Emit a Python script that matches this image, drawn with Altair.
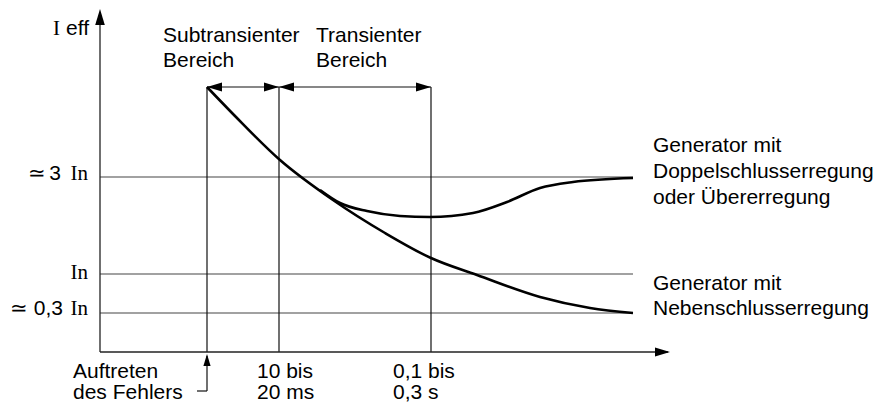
import altair as alt
import pandas as pd

# Diagram units: origin at the crossing of the two axes, one unit = one pixel
X_DOMAIN = [-92, 784]
Y_DOMAIN = [-52, 344]

# Axis lines
axis_x = [0, 0]
axis_x2 = [0, 568]
axis_y = [0, 0]
axis_y2 = [340, 0]

# Vertical markers: fault, 10..20 ms, 0.1..0.3 s
marker_x = [107, 179, 331]
marker_top = 265

# Current levels: ~3 In, In, ~0.3 In
level_y = [175, 78, 39]
level_end = 533

# Curve: generator with shunt excitation (Nebenschlusserregung)
neben_x = [107, 135, 180, 233, 285, 331, 377, 440, 490, 533]
neben_y = [265, 236, 192, 152, 119, 94, 77, 55, 44, 39]

# Curve: generator with compound / over-excitation
doppel_x = [220, 240, 267, 300, 330, 373, 407, 440, 473, 533]
doppel_y = [162, 149, 141, 136, 135, 139, 150, 164, 170, 174]

# Arrowheads (tip position, direction in degrees clockwise from right, area)
arrow_x = [0, 570, 107, 107, 179, 179, 331]
arrow_y = [343, 0, -2, 265, 265, 265, 265]
arrow_angle = [270, 0, 270, 180, 0, 180, 0]
arrow_size = [256, 225, 144, 225, 225, 225, 225]

# Dimension line and fault pointer
dim_x, dim_x2, dim_y = [107], [331], [265]
ptr_x = [107, 97]
ptr_x2 = [107, 107]
ptr_y = [-39, -39]
ptr_y2 = [-4, -39]

# Texts (sans, left aligned)
sl_text = ["Subtransienter", "Bereich", "Transienter", "Bereich",
           "Generator mit", "Doppelschlusserregung", "oder Übererregung",
           "Generator mit", "Nebenschlusserregung",
           "Auftreten", "des Fehlers", "10 bis", "20 ms", "0,1 bis", "0,3 s"]
sl_x = [63, 63, 216, 216, 553, 553, 553, 553, 553, -27, -27, 157, 157, 293, 293]
sl_y = [310, 285, 310, 285, 200, 174, 148, 62, 37, -26, -47, -26, -47, -26, -47]

# Texts (sans, right aligned)
sr_text = ["eff", "3", "0,3", "≃", "≃"]
sr_x = [-11, -39, -37, -54, -72]
sr_y = [317, 172, 37, 172, 37]

# Texts (serif, right aligned)
rr_text = ["I", "In", "In", "In"]
rr_x = [-40, -12, -12, -12]
rr_y = [317, 172, 73, 37]

xs = alt.Scale(domain=X_DOMAIN, nice=False, zero=False)
ys = alt.Scale(domain=Y_DOMAIN, nice=False, zero=False)


def X(f="x"):
    return alt.X(f"{f}:Q", scale=xs, axis=None)


def Y(f="y"):
    return alt.Y(f"{f}:Q", scale=ys, axis=None)


axes = alt.Chart(pd.DataFrame({"x": axis_x, "x2": axis_x2, "y": axis_y, "y2": axis_y2})).mark_rule(
    color="#222", strokeWidth=1.3).encode(x=X(), x2="x2:Q", y=Y(), y2="y2:Q")

markers = alt.Chart(pd.DataFrame({"x": marker_x, "y": [0] * 3, "y2": [marker_top] * 3})).mark_rule(
    color="#111", strokeWidth=1.2).encode(x=X(), y=Y(), y2="y2:Q")

levels = alt.Chart(pd.DataFrame({"x": [0] * 3, "x2": [level_end] * 3, "y": level_y})).mark_rule(
    color="#444", strokeWidth=1.2).encode(x=X(), x2="x2:Q", y=Y())

dims = alt.Chart(pd.DataFrame({"x": dim_x, "x2": dim_x2, "y": dim_y})).mark_rule(
    color="#111", strokeWidth=1.2).encode(x=X(), x2="x2:Q", y=Y())

ptr = alt.Chart(pd.DataFrame({"x": ptr_x, "x2": ptr_x2, "y": ptr_y, "y2": ptr_y2})).mark_rule(
    color="#111", strokeWidth=1.2).encode(x=X(), x2="x2:Q", y=Y(), y2="y2:Q")

curve_a = alt.Chart(pd.DataFrame({"x": neben_x, "y": neben_y})).mark_line(
    interpolate="monotone", color="black", strokeWidth=2.6).encode(x=X(), y=Y())
curve_b = alt.Chart(pd.DataFrame({"x": doppel_x, "y": doppel_y})).mark_line(
    interpolate="monotone", color="black", strokeWidth=2.6).encode(x=X(), y=Y())

arrows = alt.Chart(pd.DataFrame({"x": arrow_x, "y": arrow_y, "a": arrow_angle, "s": arrow_size})).mark_point(
    shape="M0,0L-2,-0.6L-2,0.6Z", filled=True, color="black", opacity=1, strokeWidth=0).encode(
    x=X(), y=Y(), angle=alt.Angle("a:Q", scale=None), size=alt.Size("s:Q", scale=None))

t_sl = alt.Chart(pd.DataFrame({"x": sl_x, "y": sl_y, "t": sl_text})).mark_text(
    align="left", baseline="alphabetic", font="Liberation Sans", fontSize=21, color="black").encode(
    x=X(), y=Y(), text="t:N")
t_sr = alt.Chart(pd.DataFrame({"x": sr_x, "y": sr_y, "t": sr_text})).mark_text(
    align="right", baseline="alphabetic", font="Liberation Sans", fontSize=21, color="black").encode(
    x=X(), y=Y(), text="t:N")
t_rr = alt.Chart(pd.DataFrame({"x": rr_x, "y": rr_y, "t": rr_text})).mark_text(
    align="right", baseline="alphabetic", font="Liberation Serif", fontSize=21, color="black").encode(
    x=X(), y=Y(), text="t:N")

chart = alt.layer(levels, markers, axes, dims, ptr, curve_a, curve_b, arrows, t_sl, t_sr, t_rr).properties(
    width=876, height=396, autosize=alt.AutoSizeParams(type="none"), padding=0,
    background="white").configure_view(stroke=None)

chart.save("out.html", embed_options={"renderer": "svg", "actions": False})
